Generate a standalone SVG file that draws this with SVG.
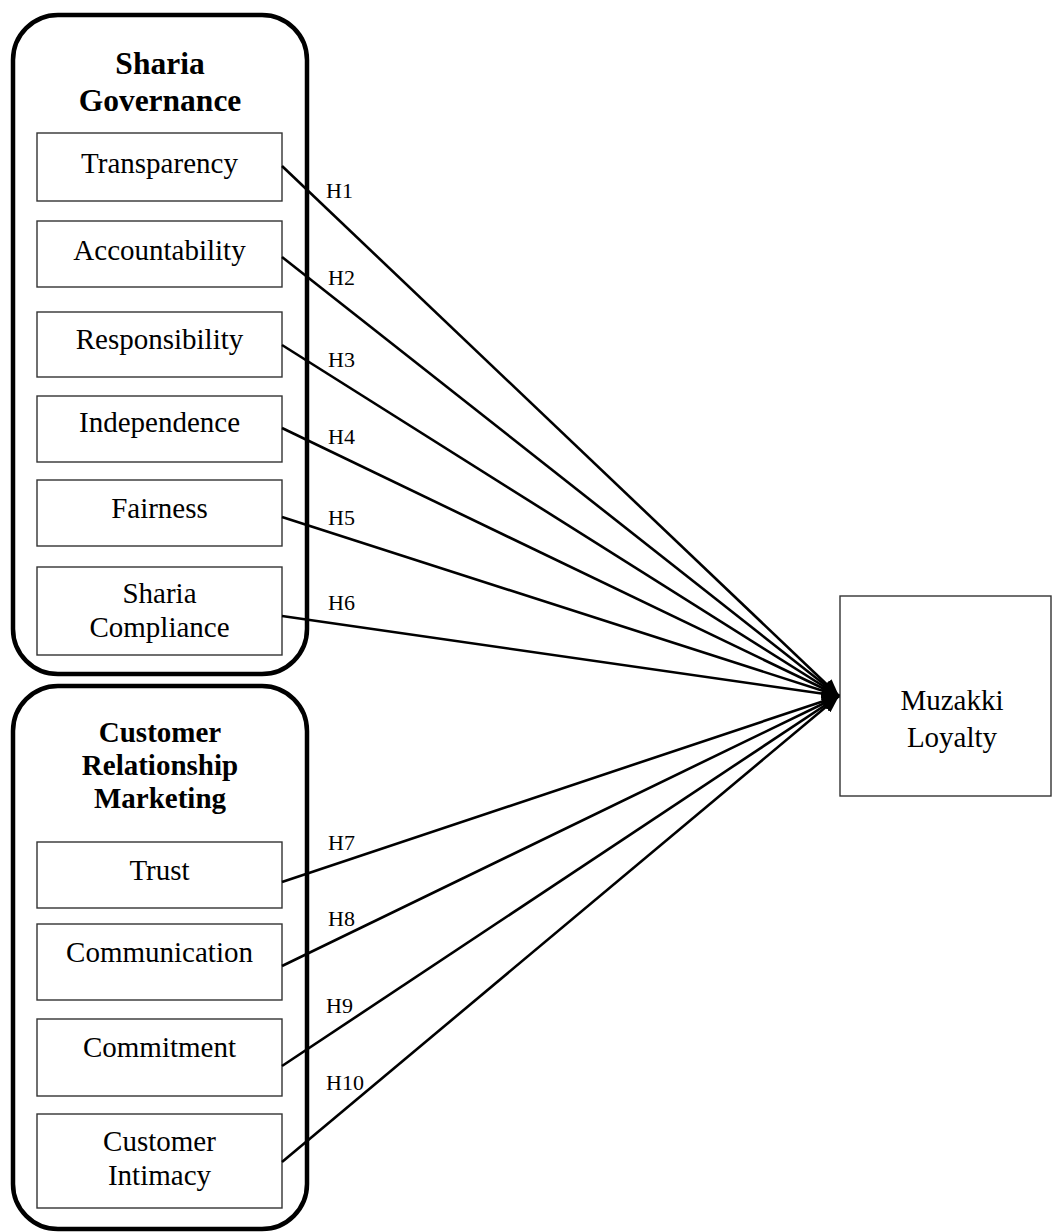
<svg xmlns="http://www.w3.org/2000/svg" width="1053" height="1232" viewBox="0 0 1053 1232">
<style>
  .grp { fill: none; stroke: #000; stroke-width: 4.5; }
  .box { fill: #fff; stroke: #333; stroke-width: 1.4; }
  .lbl { font-family: "Liberation Serif", "Times New Roman", serif; font-size: 29px; fill: #000; text-anchor: middle; }
  .hdr { font-family: "Liberation Serif", "Times New Roman", serif; font-weight: bold; fill: #000; text-anchor: middle; }
  .hl { font-family: "Liberation Serif", "Times New Roman", serif; font-size: 22px; fill: #000; }
  .con { stroke: #000; stroke-width: 2.6; fill: none; marker-end: url(#arr); }
</style>
<defs>
  <marker id="arr" markerUnits="userSpaceOnUse" markerWidth="18" markerHeight="14" refX="17" refY="7" orient="auto">
    <path d="M0,0 L17,7 L0,14 z" fill="#000"/>
  </marker>
</defs>
<rect width="1053" height="1232" fill="#fff"/>

<g id="sharia-governance">
  <rect class="grp" x="13" y="15" width="294" height="659" rx="45" ry="45"/>
  <text class="hdr" font-size="31.5" x="160" y="74">Sharia</text>
  <text class="hdr" font-size="31.5" x="160" y="111">Governance</text>
</g>
<g id="transparency">
  <rect class="box" x="37" y="133" width="245" height="68"/>
  <text class="lbl" x="159.5" y="173">Transparency</text>
</g>
<g id="accountability">
  <rect class="box" x="37" y="221" width="245" height="66"/>
  <text class="lbl" x="159.5" y="260">Accountability</text>
</g>
<g id="responsibility">
  <rect class="box" x="37" y="312" width="245" height="65"/>
  <text class="lbl" x="159.5" y="349">Responsibility</text>
</g>
<g id="independence">
  <rect class="box" x="37" y="396" width="245" height="66"/>
  <text class="lbl" x="159.5" y="432">Independence</text>
</g>
<g id="fairness">
  <rect class="box" x="37" y="480" width="245" height="66"/>
  <text class="lbl" x="159.5" y="518">Fairness</text>
</g>
<g id="sharia-compliance">
  <rect class="box" x="37" y="567" width="245" height="88"/>
  <text class="lbl" x="159.5" y="603">Sharia</text>
  <text class="lbl" x="159.5" y="637">Compliance</text>
</g>

<g id="customer-relationship-marketing">
  <rect class="grp" x="13" y="686" width="294" height="543" rx="45" ry="45"/>
  <text class="hdr" font-size="29" x="160" y="742">Customer</text>
  <text class="hdr" font-size="29" x="160" y="775">Relationship</text>
  <text class="hdr" font-size="29" x="160" y="808">Marketing</text>
</g>
<g id="trust">
  <rect class="box" x="37" y="842" width="245" height="66"/>
  <text class="lbl" x="159.5" y="880">Trust</text>
</g>
<g id="communication">
  <rect class="box" x="37" y="924" width="245" height="76"/>
  <text class="lbl" x="159.5" y="962">Communication</text>
</g>
<g id="commitment">
  <rect class="box" x="37" y="1019" width="245" height="77"/>
  <text class="lbl" x="159.5" y="1057">Commitment</text>
</g>
<g id="customer-intimacy">
  <rect class="box" x="37" y="1114" width="245" height="94"/>
  <text class="lbl" x="159.5" y="1151">Customer</text>
  <text class="lbl" x="159.5" y="1185">Intimacy</text>
</g>

<g id="muzakki-loyalty">
  <rect class="box" x="840" y="596" width="211" height="200"/>
  <text class="lbl" font-size="30" x="952" y="710">Muzakki</text>
  <text class="lbl" font-size="30" x="952" y="747">Loyalty</text>
</g>

<g id="connectors">
  <line class="con" x1="282" y1="166" x2="839" y2="696"/>
  <line class="con" x1="282" y1="257" x2="839" y2="696"/>
  <line class="con" x1="282" y1="345" x2="839" y2="696"/>
  <line class="con" x1="282" y1="428" x2="839" y2="696"/>
  <line class="con" x1="282" y1="517" x2="839" y2="696"/>
  <line class="con" x1="282" y1="616" x2="839" y2="696"/>
  <line class="con" x1="282" y1="882" x2="839" y2="696"/>
  <line class="con" x1="282" y1="966" x2="839" y2="696"/>
  <line class="con" x1="282" y1="1066" x2="839" y2="696"/>
  <line class="con" x1="282" y1="1162" x2="839" y2="696"/>
  <text class="hl" x="326" y="198">H1</text>
  <text class="hl" x="328" y="285">H2</text>
  <text class="hl" x="328" y="367">H3</text>
  <text class="hl" x="328" y="444">H4</text>
  <text class="hl" x="328" y="525">H5</text>
  <text class="hl" x="328" y="610">H6</text>
  <text class="hl" x="328" y="850">H7</text>
  <text class="hl" x="328" y="926">H8</text>
  <text class="hl" x="326" y="1013">H9</text>
  <text class="hl" x="326" y="1090">H10</text>
</g>
</svg>
